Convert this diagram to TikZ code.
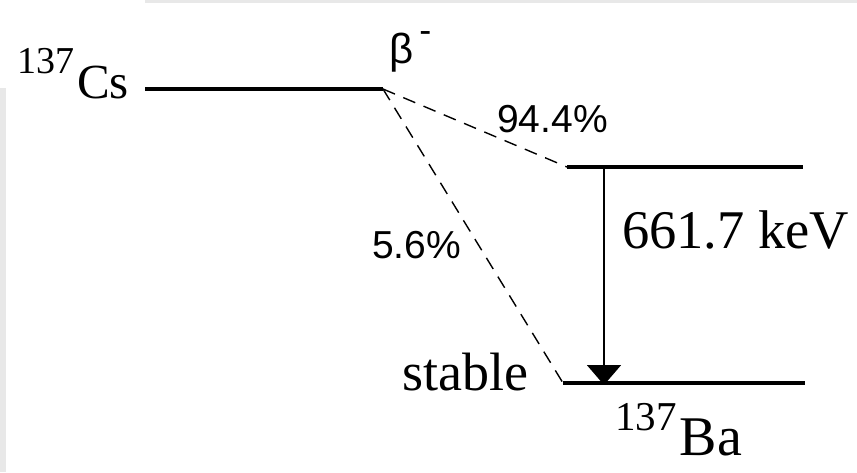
\documentclass[tikz,border=0pt]{standalone}
\usepackage{fontspec}
\setmainfont{Liberation Serif}
\newfontfamily\labelfont{Liberation Sans}
\usetikzlibrary{arrows.meta, positioning}
\definecolor{framegray}{HTML}{E8E8E8}
\tikzset{
	level/.style={line width=4.8pt, draw=black},
	decay/.style={line width=1.4pt, dash pattern=on 13pt off 9pt, draw=black},
	gammaarr/.style={-{Triangle[length=20pt, width=34pt]}, line width=1.8pt, draw=black},
	txt/.style={inner sep=0pt, font=\fontsize{54}{60}\selectfont},
	plab/.style={inner sep=0pt, font=\labelfont\fontsize{39}{44}\selectfont}
}

\begin{document}
\begin{tikzpicture}[x=1pt, y=-1pt]
	\useasboundingbox (0,0) rectangle (857,472);
	% frame left over from the screenshot
	\fill[framegray] (145,0) rectangle (857,3);
	\fill[framegray] (0,88) rectangle (6,472);

	\coordinate (cs-a) at (145,89);
	\coordinate (cs-b) at (383,89);
	\coordinate (bax-a) at (567,167);
	\coordinate (bax-b) at (803,167);
	\coordinate (ba-a) at (563,383);
	\coordinate (ba-b) at (805,383);
	\coordinate (g-top) at (604,169);
	\coordinate (g-bot) at (604,385);

	\draw[level] (cs-a) -- (cs-b);
	\draw[level] (bax-a) -- (bax-b);
	\draw[level] (ba-a) -- (ba-b);
	\draw[decay] (cs-b) -- (bax-a);
	\draw[decay] (cs-b) -- (ba-a);
	\draw[gammaarr] (g-top) -- (g-bot);

	\node[txt, anchor=base east] (cs) at (129,98)
		{\raisebox{25pt}{\fontsize{38}{40}\selectfont 137}\hspace{3pt}{\fontsize{49}{50}\selectfont Cs}};
	\node[plab, anchor=base west] (beta) at (389,63)
		{\fontsize{42}{44}\selectfont β\hspace{6pt}\raisebox{21pt}{\fontsize{36}{40}\selectfont -}};
	\node[plab, anchor=base west] (p944) at (497,132) {94.4\%};
	\node[plab, anchor=base west] (p56) at (372,258) {5.6\%};
	\node[txt, anchor=base west] (egam) at (622,248) {\fontsize{54.5}{60}\selectfont 661.7 keV};
	\node[txt, anchor=base east] (stab) at (529,390) {stable};
	\node[txt, anchor=base west] (ba) at (615,455)
		{\raisebox{25pt}{\fontsize{41}{44}\selectfont 137}\hspace{3pt}{\fontsize{56}{60}\selectfont Ba}};
\end{tikzpicture}
\end{document}
